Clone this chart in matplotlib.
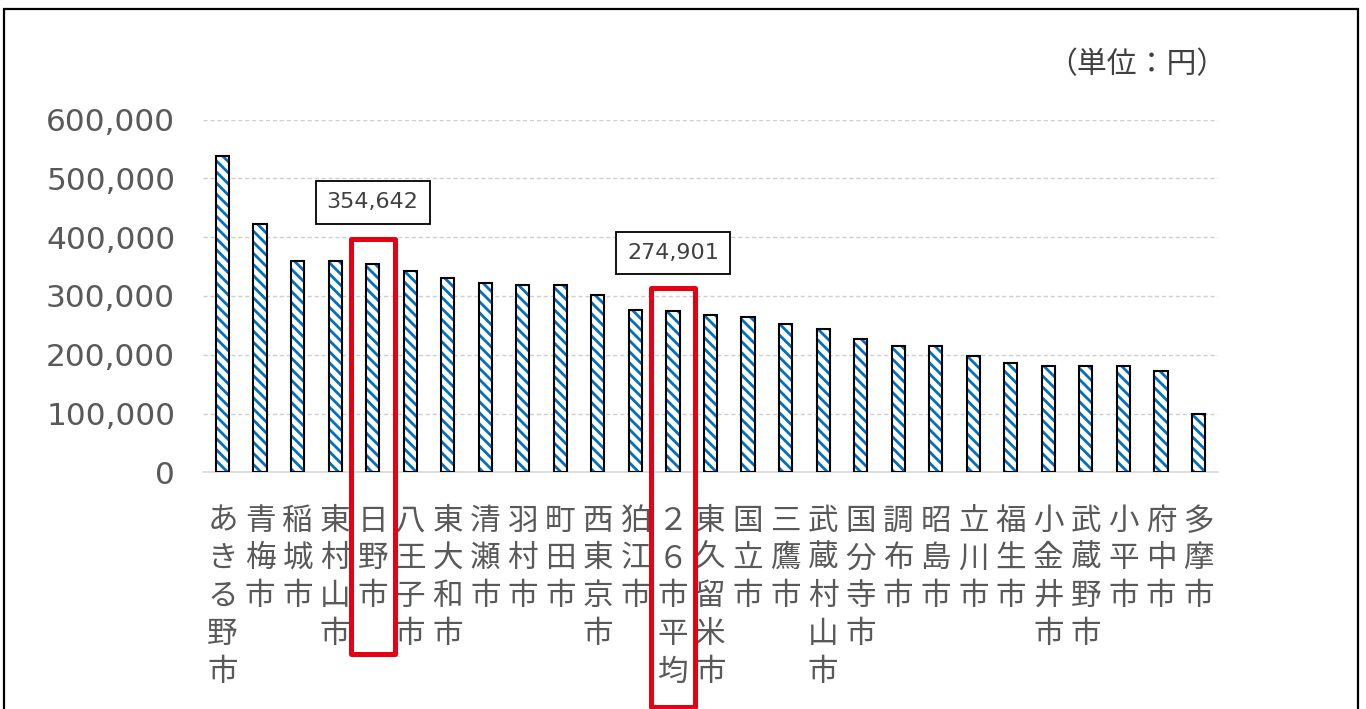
import matplotlib
matplotlib.use("Agg")
import matplotlib.pyplot as plt
import matplotlib.transforms as mtransforms
from matplotlib.patches import Rectangle
from matplotlib.ticker import FuncFormatter

plt.rcParams['font.family'] = ['Noto Sans CJK JP', 'DejaVu Sans']
plt.rcParams['hatch.linewidth'] = 2.0

# cities (sorted as in the source chart) and values in yen
cities = ["あきる野市", "青梅市", "稲城市", "東村山市", "日野市", "八王子市", "東大和市",
          "清瀬市", "羽村市", "町田市", "西東京市", "狛江市", "２６市平均", "東久留米市",
          "国立市", "三鷹市", "武蔵村山市", "国分寺市", "調布市", "昭島市", "立川市",
          "福生市", "小金井市", "武蔵野市", "小平市", "府中市", "多摩市"]
values = [538000, 422500, 359500, 359500, 354642, 343000, 330500,
          321800, 318500, 318500, 301500, 276500, 274901, 267500,
          263600, 252000, 243500, 226500, 214000, 214000, 198500,
          185500, 181500, 181500, 181500, 173000, 98500]
yticks = [0, 100000, 200000, 300000, 400000, 500000, 600000]
highlight = ["日野市", "２６市平均"]
unit_label = "（単位：円）"

W, H = 1366, 709
fig = plt.figure(figsize=(W / 100, H / 100), dpi=100)
ax = fig.add_axes([203 / W, 236.7 / H, 1015 / W, 352.8 / H])

x = list(range(len(cities)))
# hatched fill (blue stripes on white), then black outline on top
ax.bar(x, values, width=0.35, facecolor='white', edgecolor='#0070C0',
       hatch='\\\\\\', linewidth=0, zorder=3)
ax.bar(x, values, width=0.35, fill=False, edgecolor='black', linewidth=1.5, zorder=4)

ax.set_xlim(-0.52, len(cities) - 0.48)
ax.set_ylim(0, 600000)
ax.set_yticks(yticks)
ax.yaxis.set_major_formatter(FuncFormatter(lambda v, p: f"{int(v):,}"))
for lab in ax.get_yticklabels():
    lab.set_family('DejaVu Sans')
ax.tick_params(axis='y', length=0, pad=20, labelsize=22.5, labelcolor='#595959')

ax.set_xticks(x)
ax.set_xticklabels(["\n".join(c) for c in cities], fontsize=22, color='#595959',
                   linespacing=1.28, va='top')
ax.tick_params(axis='x', length=0, pad=24)

for s in ['left', 'right', 'top']:
    ax.spines[s].set_visible(False)
ax.spines['bottom'].set_color('#D9D9D9')
ax.spines['bottom'].set_linewidth(1.2)
ax.grid(axis='y', color='#CFCFCF', linestyle=(0, (3, 2)), linewidth=1.0, zorder=0)
ax.set_axisbelow(True)

# x in data units, y in figure fraction (measured from the top in pixels)
tr = mtransforms.blended_transform_factory(ax.transData, fig.transFigure)

def fy(px):
    return 1 - px / H

# red boxes around highlighted bars
boxes = {"日野市": (239.3, 654), "２６市平均": (288.3, 707)}
for name in highlight:
    i = cities.index(name)
    top, bot = boxes[name]
    r = Rectangle((i - 0.59, fy(bot)), 1.18, (bot - top) / H, transform=tr,
                  fill=False, edgecolor='#E60012', linewidth=3.6,
                  joinstyle='round', clip_on=False, zorder=6)
    fig.add_artist(r)

# value callouts
callouts = {"日野市": 202.5, "２６市平均": 253}
for name in highlight:
    i = cities.index(name)
    v = values[i]
    ax.text(i, fy(callouts[name]), f"{v:,}", transform=tr, ha='center', va='center',
            fontsize=16, family='DejaVu Sans', color='#404040', zorder=7,
            bbox=dict(boxstyle='square,pad=0.5', facecolor='white',
                      edgecolor='black', linewidth=1.3))

fig.text(1226 / W, fy(65), unit_label, ha='right', va='center', fontsize=21.5,
         color='#404040')

# outer frame of the screenshot
fig.add_artist(Rectangle((4 / W, -0.05), 1354 / W, 1.05 - 9 / H,
                         transform=fig.transFigure, fill=False,
                         edgecolor='black', linewidth=1.6))

fig.savefig("out.png", dpi=100)
